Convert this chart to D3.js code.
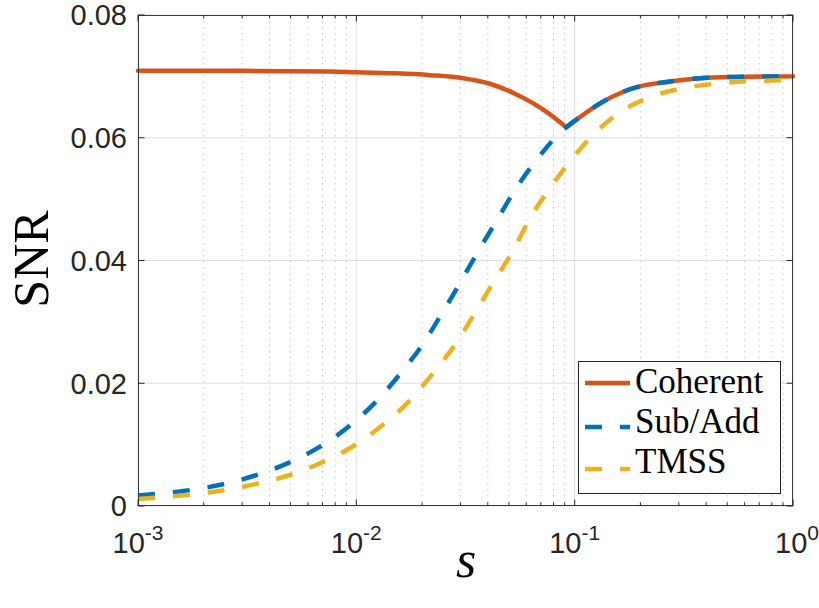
<!DOCTYPE html>
<html>
<head>
<meta charset="utf-8">
<script src="https://cdn.jsdelivr.net/npm/d3@7"></script>
<style>
  html, body { margin: 0; padding: 0; background: #fff; }
  svg { display: block; }
</style>
</head>
<body>
<svg id="chart" width="819" height="608"></svg>
<script>
// ---- data ----
const coherentS   = [0.001, 0.003, 0.00758, 0.01, 0.0153, 0.0218, 0.0309, 0.0409, 0.0524, 0.0647, 0.0771, 0.0915, 0.106, 0.1307, 0.167, 0.2, 0.264, 0.375, 0.533, 1];
const coherentSNR = [0.0709, 0.0709, 0.0708, 0.07066, 0.0705, 0.0702, 0.0697, 0.0688, 0.0673, 0.0656, 0.0638, 0.0617, 0.0634, 0.0656, 0.0675, 0.0684, 0.0691, 0.0697, 0.0699, 0.0700];

const subAddS   = [0.001, 0.00161, 0.00233, 0.00338, 0.00483, 0.00682, 0.0095, 0.0123, 0.01585, 0.02, 0.0244, 0.0297, 0.036, 0.0436, 0.0533, 0.0666, 0.0857, 0.0915, 0.106, 0.1307, 0.167, 0.2, 0.264, 0.375, 0.533, 1];
const subAddSNR = [0.00172, 0.00244, 0.00337, 0.00489, 0.00695, 0.00967, 0.0133, 0.0170, 0.0215, 0.0262, 0.0311, 0.0362, 0.0414, 0.0463, 0.0515, 0.0563, 0.0608, 0.0617, 0.0634, 0.0656, 0.0675, 0.0684, 0.0691, 0.0697, 0.0699, 0.0700];

const tmssS   = [0.001, 0.00161, 0.00235, 0.00341, 0.00496, 0.00706, 0.00988, 0.0133, 0.01782, 0.02277, 0.0286, 0.035, 0.0427, 0.0524, 0.0625, 0.0771, 0.097, 0.124, 0.167, 0.238, 0.344, 0.506, 0.731, 1];
const tmssSNR = [0.00114, 0.00174, 0.00244, 0.00353, 0.00505, 0.00722, 0.00994, 0.0133, 0.0174, 0.0219, 0.0265, 0.0315, 0.0366, 0.0417, 0.0469, 0.0518, 0.0565, 0.0608, 0.0645, 0.0670, 0.0683, 0.0690, 0.0693, 0.0694];

const seriesNames = ["Coherent", "Sub/Add", "TMSS"];
const xTickExponents = [-3, -2, -1, 0];
const yTickValues = [0, 0.02, 0.04, 0.06, 0.08];
const yTickLabels = ["0", "0.02", "0.04", "0.06", "0.08"];

// ---- layout ----
const L = 138, R = 793, T = 15, B = 506;
const svg = d3.select("#chart");
const x = d3.scaleLog().domain([1e-3, 1]).range([L, R]);
const y = d3.scaleLinear().domain([0, 0.08]).range([B, T]);

const colors = { "Coherent": "#D95319", "Sub/Add": "#0072BD", "TMSS": "#EDB120" };
const axisColor = "#262626";
const LW = 4.5;

svg.append("rect").attr("x", L).attr("y", T).attr("width", R - L).attr("height", B - T).attr("fill", "#fff");

// minor grid (x, dotted)
const minorTicks = [];
for (let e = -3; e < 0; e++) for (let k = 2; k <= 9; k++) minorTicks.push(k * Math.pow(10, e));
const grid = svg.append("g");
grid.selectAll("line.minor").data(minorTicks).enter().append("line")
  .attr("x1", d => x(d)).attr("x2", d => x(d)).attr("y1", T).attr("y2", B)
  .attr("stroke", "#c8c8c8").attr("stroke-width", 1).attr("stroke-dasharray", "1.5,4.5");
// major grid
const majorX = xTickExponents.map(e => Math.pow(10, e));
grid.selectAll("line.mx").data(majorX).enter().append("line")
  .attr("x1", d => x(d)).attr("x2", d => x(d)).attr("y1", T).attr("y2", B)
  .attr("stroke", "#dfdfdf").attr("stroke-width", 1);
grid.selectAll("line.my").data(yTickValues).enter().append("line")
  .attr("x1", L).attr("x2", R).attr("y1", d => y(d)).attr("y2", d => y(d))
  .attr("stroke", "#dfdfdf").attr("stroke-width", 1);

// ---- curves ----
const line = d3.line().x(d => x(d[0])).y(d => y(d[1])).curve(d3.curveMonotoneX);
const zip = (a, b) => a.map((v, i) => [v, b[i]]);

const plot = svg.append("g");
const coh = zip(coherentS, coherentSNR);
const minIdx = d3.minIndex(coherentSNR);
[coh.slice(0, minIdx + 1), coh.slice(minIdx)].forEach(seg => {
  plot.append("path").attr("d", line(seg)).attr("fill", "none")
    .attr("stroke", colors["Coherent"]).attr("stroke-width", LW).attr("stroke-linecap", "round");
});
plot.append("path").attr("d", line(zip(subAddS, subAddSNR))).attr("fill", "none")
  .attr("stroke", colors["Sub/Add"]).attr("stroke-width", LW).attr("stroke-dasharray", "17,18");
plot.append("path").attr("d", line(zip(tmssS, tmssSNR))).attr("fill", "none")
  .attr("stroke", colors["TMSS"]).attr("stroke-width", LW).attr("stroke-dasharray", "17,18");

// ---- axes box and ticks ----
const ax = svg.append("g").attr("stroke", axisColor).attr("stroke-width", 1).attr("fill", "none");
ax.append("rect").attr("x", L + 0.5).attr("y", T + 0.5).attr("width", R - L - 1).attr("height", B - T - 1)
  .attr("stroke", "#3a3a3a");
const tickMaj = 6.5, tickMin = 3.5;
majorX.forEach(v => {
  ax.append("line").attr("x1", x(v)).attr("x2", x(v)).attr("y1", B).attr("y2", B - tickMaj);
  ax.append("line").attr("x1", x(v)).attr("x2", x(v)).attr("y1", T).attr("y2", T + tickMaj);
});
minorTicks.forEach(v => {
  ax.append("line").attr("x1", x(v)).attr("x2", x(v)).attr("y1", B).attr("y2", B - tickMin);
  ax.append("line").attr("x1", x(v)).attr("x2", x(v)).attr("y1", T).attr("y2", T + tickMin);
});
yTickValues.forEach(v => {
  ax.append("line").attr("x1", L).attr("x2", L + tickMaj).attr("y1", y(v)).attr("y2", y(v));
  ax.append("line").attr("x1", R).attr("x2", R - tickMaj).attr("y1", y(v)).attr("y2", y(v));
});

// tick labels
const tickFont = "'Liberation Sans', Arial, Helvetica, sans-serif";
svg.append("g").selectAll("text").data(yTickValues).enter().append("text")
  .attr("x", L - 11).attr("y", d => y(d)).attr("dy", "0.36em")
  .attr("text-anchor", "end").attr("font-family", tickFont).attr("font-size", 29)
  .attr("fill", axisColor).text((d, i) => yTickLabels[i]);

const xl = svg.append("g").selectAll("text").data(xTickExponents).enter().append("text")
  .attr("x", d => x(Math.pow(10, d)) + (d < 0 ? 0 : 4)).attr("y", 553)
  .attr("text-anchor", "middle").attr("font-family", tickFont).attr("font-size", 29)
  .attr("fill", axisColor);
xl.append("tspan").text("10");
xl.append("tspan").attr("font-size", 21).attr("dy", -13).text(d => String(d));

// axis titles
svg.append("text").attr("transform", "translate(48,259) rotate(-90)")
  .attr("text-anchor", "middle").attr("font-family", "'Liberation Serif', 'Times New Roman', serif")
  .attr("font-size", 50).attr("fill", "#000").text("SNR");
svg.append("text").attr("x", 466).attr("y", 577)
  .attr("text-anchor", "middle").attr("font-family", "'Liberation Serif', 'Times New Roman', serif")
  .attr("font-style", "italic").attr("font-size", 52).attr("fill", "#000").text("s");

// ---- legend ----
const lg = svg.append("g");
lg.append("rect").attr("x", 578.5).attr("y", 361.5).attr("width", 202).attr("height", 132)
  .attr("fill", "#fff").attr("stroke", axisColor).attr("stroke-width", 1);
const legY = [383, 427, 469];
const legBase = [393, 433, 473];
seriesNames.forEach((name, i) => {
  lg.append("line").attr("x1", 585).attr("x2", 630).attr("y1", legY[i]).attr("y2", legY[i])
    .attr("stroke", colors[name]).attr("stroke-width", LW)
    .attr("stroke-dasharray", name === "Coherent" ? null : "17,18");
  lg.append("text").attr("x", 635).attr("y", legBase[i])
    .attr("font-family", "'Liberation Serif', 'Times New Roman', serif").attr("font-size", 35)
    .attr("fill", "#000").text(name);
});
</script>
</body>
</html>
